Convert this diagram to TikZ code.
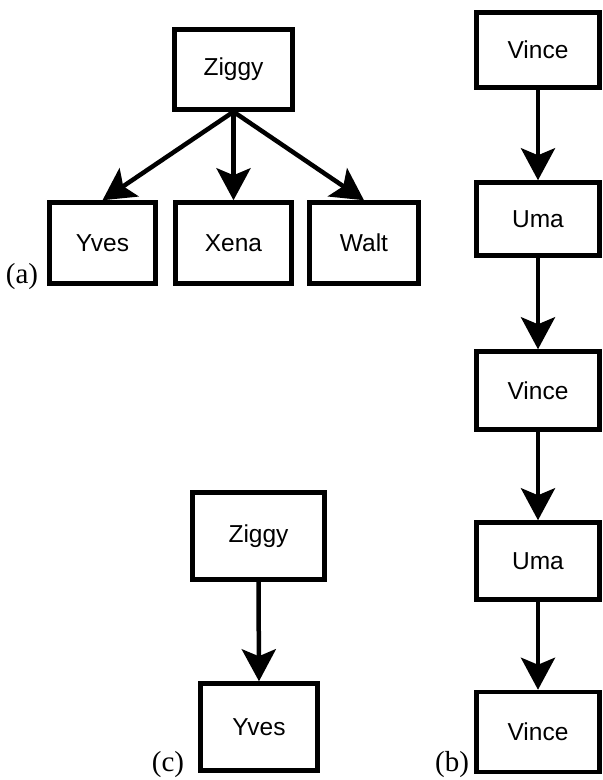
\documentclass[tikz,border=0pt]{standalone}
\usepackage{fontspec}
\setmainfont{Liberation Serif}
\newfontfamily\boxfont{Liberation Sans}
\usetikzlibrary{arrows.meta}

\begin{document}
\begin{tikzpicture}[x=1pt,y=-1pt,
	box/.style={draw, line width=4.5pt, inner sep=0pt, minimum width=#1,
		minimum height=82pt, font=\boxfont\fontsize{24.5}{28}\selectfont},
	box/.default=119pt,
	tag/.style={font=\fontsize{29}{32}\selectfont},
	>={Stealth[length=32pt,width=34pt,inset=7pt]}]
\useasboundingbox (0,0) rectangle (603,780);

% (a)
\path (233.5,69.5) node[box=118pt, minimum height=80pt] (zigga) {Ziggy}
		(102.5,243) node[box=106pt, minimum height=81pt] (yvesa) {Yves}
		(233.5,243) node[box=116pt, minimum height=81pt] (xena) {Xena}
		(364,243) node[box=109pt, minimum height=81pt] (walt) {Walt}
		(22,277) node[tag] (taga) {(a)}
		;

% (b)
\path (538,50) node[box=123pt, minimum height=75pt] (vinceb) {Vince}
		(538,219) node[box=123pt, minimum height=73pt] (umab) {Uma}
		(538,390.5) node[box=123pt, minimum height=78pt] (vincec) {Vince}
		(538,561) node[box=123pt, minimum height=77pt] (umac) {Uma}
		(538,732) node[box=123pt, minimum height=80pt] (vinced) {Vince}
		(452,765) node[tag] (tagb) {(b)}
		;

% (c)
\path (258.5,536) node[box=132pt, minimum height=87pt] (ziggc) {Ziggy}
		(259,727) node[box=117pt, minimum height=87pt] (yvesc) {Yves}
		(168,765) node[tag] (tagc) {(c)}
		;

\draw[->, line width=4.5pt] (node cs:name=zigga, anchor=south) -- (node cs:name=yvesa, anchor=north);
\draw[->, line width=4.5pt] (node cs:name=zigga, anchor=south) -- (node cs:name=xena, anchor=north);
\draw[->, line width=4.5pt] (node cs:name=zigga, anchor=south) -- (node cs:name=walt, anchor=north);

\draw[->, line width=4.5pt] (node cs:name=vinceb) -- (node cs:name=umab);
\draw[->, line width=4.5pt] (node cs:name=umab) -- (node cs:name=vincec);
\draw[->, line width=4.5pt] (node cs:name=vincec) -- (node cs:name=umac);
\draw[->, line width=4.5pt] (node cs:name=umac) -- (node cs:name=vinced);

\draw[->, line width=4.5pt] (node cs:name=ziggc, anchor=south) -- (node cs:name=yvesc, anchor=north);
\end{tikzpicture}
\end{document}
